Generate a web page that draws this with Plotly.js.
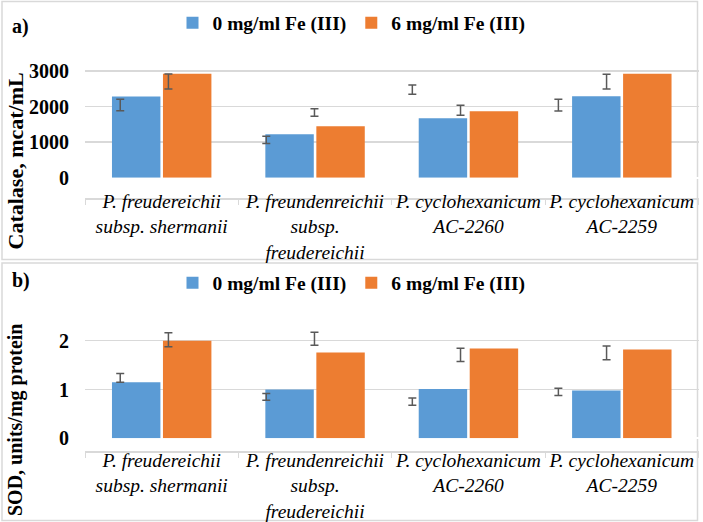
<!DOCTYPE html>
<html>
<head>
<meta charset="utf-8">
<script src="https://cdn.plot.ly/plotly-3.0.1.min.js"></script>
<style>html,body{margin:0;padding:0;background:#fff;}#chart{width:703px;height:522px;}</style>
</head>
<body>
<div id="chart"></div>
<script>
// ---- data ----
const categories = [
  "P. freudereichii<br>subsp. shermanii",
  "P. freundenreichii<br>subsp.<br>freudereichii",
  "P. cyclohexanicum<br>AC-2260",
  "P. cyclohexanicum<br>AC-2259"
];
const seriesNames = ["0 mg/ml Fe (III)", "6 mg/ml Fe (III)"];

// a) Catalase, mcat/mL
const catalase0 = [2280, 1220, 1670, 2290];
const catalase6 = [2920, 1450, 1870, 2920];
// error bars as drawn in the figure (centre, half-length)
const catalaseErrCentre0 = [2045, 1065, 2475, 2040];
const catalaseErrHalf0   = [160, 100, 130, 165];
const catalaseErrCentre6 = [2705, 1835, 1895, 2700];
const catalaseErrHalf6   = [210, 105, 140, 210];

// b) SOD, units/mg protein
const sod0 = [1.15, 1.00, 1.01, 0.98];
const sod6 = [2.00, 1.76, 1.84, 1.82];
const sodErrCentre0 = [1.24, 0.85, 0.75, 0.95];
const sodErrHalf0   = [0.09, 0.07, 0.075, 0.075];
const sodErrCentre6 = [2.02, 2.04, 1.71, 1.75];
const sodErrHalf6   = [0.145, 0.135, 0.135, 0.14];

const yTicksA = [0, 1000, 2000, 3000];
const yTicksB = [0, 1, 2];

// ---- styling ----
const BLUE = "#5B9BD5", ORANGE = "#ED7D31", GRID = "#d9d9d9", ERR = "#595959";
const SERIF = "Liberation Serif, Times New Roman, serif";

function barTrace(y, name, color, xa, ya, legend) {
  return {type: "bar", x: categories, y: y, name: name, xaxis: xa, yaxis: ya,
          legend: legend, marker: {color: color}, hoverinfo: "skip"};
}
function errTrace(c, h, xa, ya) {
  return {type: "scatter", mode: "markers", x: categories, y: c, xaxis: xa, yaxis: ya,
          showlegend: false, hoverinfo: "skip", marker: {opacity: 0, size: 2},
          error_y: {type: "data", array: h, visible: true, color: ERR, thickness: 1.5, width: 4}};
}

const data = [
  barTrace(catalase0, seriesNames[0], BLUE, "x", "y", "legend"),
  barTrace(catalase6, seriesNames[1], ORANGE, "x", "y", "legend"),
  barTrace(sod0, seriesNames[0], BLUE, "x2", "y2", "legend2"),
  barTrace(sod6, seriesNames[1], ORANGE, "x2", "y2", "legend2"),
  errTrace(catalaseErrCentre0, catalaseErrHalf0, "x3", "y3"),
  errTrace(catalaseErrCentre6, catalaseErrHalf6, "x3", "y3"),
  errTrace(sodErrCentre0, sodErrHalf0, "x4", "y4"),
  errTrace(sodErrCentre6, sodErrHalf6, "x4", "y4")
];

const H = 522, W = 703;
const py = v => (H - v) / H, px = v => v / W;

const domA = [py(177.8), py(67.4)], rngA = [0, 3100];
const domB = [py(438.3), py(328.5)], rngB = [0, 2.25];

function catAxis(pos, standoff) {
  return {type: "category", domain: [px(85), px(698.5)], anchor: "free", position: pos,
          showline: true, linecolor: GRID, linewidth: 1.5, ticks: "outside", tickson: "boundaries",
          ticklen: 5, tickcolor: GRID, showgrid: false, fixedrange: true, ticklabelstandoff: standoff,
          tickangle: 0, automargin: false,
          tickfont: {family: SERIF, size: 19.5, style: "italic", color: "#000"}};
}
function valAxis(dom, rng, ticks, anchor) {
  return {domain: dom, range: rng, anchor: anchor, tickvals: ticks, ticktext: ticks.map(String),
          showgrid: true, gridcolor: GRID, gridwidth: 1.5, zeroline: true, zerolinecolor: "#ffffff",
          zerolinewidth: 2, showline: false, ticks: "", ticklabelstandoff: 15, automargin: false,
          tickfont: {family: SERIF, size: 20, weight: "bold", color: "#000"}};
}
function hiddenCat(anchor) {
  return {type: "category", domain: [px(71.3), px(655.5)], anchor: anchor, visible: false};
}
function hiddenVal(dom, rng, anchor) {
  return {domain: dom, range: rng, anchor: anchor, visible: false, showgrid: false, zeroline: false};
}
const legendStyle = y => ({orientation: "h", x: 0.5, xanchor: "center", y: y, yanchor: "middle",
  font: {family: SERIF, size: 19.5, weight: "bold", color: "#000"}, bgcolor: "rgba(0,0,0,0)",
  itemclick: false, itemdoubleclick: false});

const titleFont = s => ({family: SERIF, size: s, weight: "bold", color: "#000"});

const layout = {
  width: W, height: H, margin: {l: 0, r: 0, t: 0, b: 0},
  paper_bgcolor: "#fff", plot_bgcolor: "rgba(0,0,0,0)",
  barmode: "group", bargap: 0.335, bargroupgap: 0.05,
  scattermode: "group", scattergap: 0.34,
  xaxis: catAxis(py(198), -15),
  yaxis: valAxis(domA, rngA, yTicksA, "x"),
  xaxis2: catAxis(py(451), -9),
  yaxis2: valAxis(domB, rngB, yTicksB, "x2"),
  xaxis3: hiddenCat("y3"),
  yaxis3: hiddenVal(domA, rngA, "x3"),
  xaxis4: hiddenCat("y4"),
  yaxis4: hiddenVal(domB, rngB, "x4"),
  legend: legendStyle(py(23)),
  legend2: legendStyle(py(283)),
  showlegend: true,
  shapes: [
    {type: "rect", xref: "paper", yref: "paper", x0: px(2), x1: px(697.5), y0: py(259.5), y1: py(1.5),
     line: {color: GRID, width: 1.5}, layer: "below"},
    {type: "rect", xref: "paper", yref: "paper", x0: px(2), x1: px(697.5), y0: py(520.5), y1: py(263),
     line: {color: GRID, width: 1.5}, layer: "below"}
  ],
  annotations: [
    {text: "a)", xref: "paper", yref: "paper", x: px(20.5), y: py(27), showarrow: false,
     xanchor: "center", yanchor: "middle", font: titleFont(20)},
    {text: "b)", xref: "paper", yref: "paper", x: px(20.5), y: py(280), showarrow: false,
     xanchor: "center", yanchor: "middle", font: titleFont(20)},
    {text: "Catalase, mcat/mL", xref: "paper", yref: "paper", x: px(15), y: py(161.5), textangle: -90,
     showarrow: false, xanchor: "center", yanchor: "middle", font: titleFont(22)},
    {text: "SOD, units/mg protein", xref: "paper", yref: "paper", x: px(15), y: py(420), textangle: -90,
     showarrow: false, xanchor: "center", yanchor: "middle", font: titleFont(20)}
  ]
};

Plotly.newPlot("chart", data, layout, {staticPlot: true, displayModeBar: false});
</script>
</body>
</html>
